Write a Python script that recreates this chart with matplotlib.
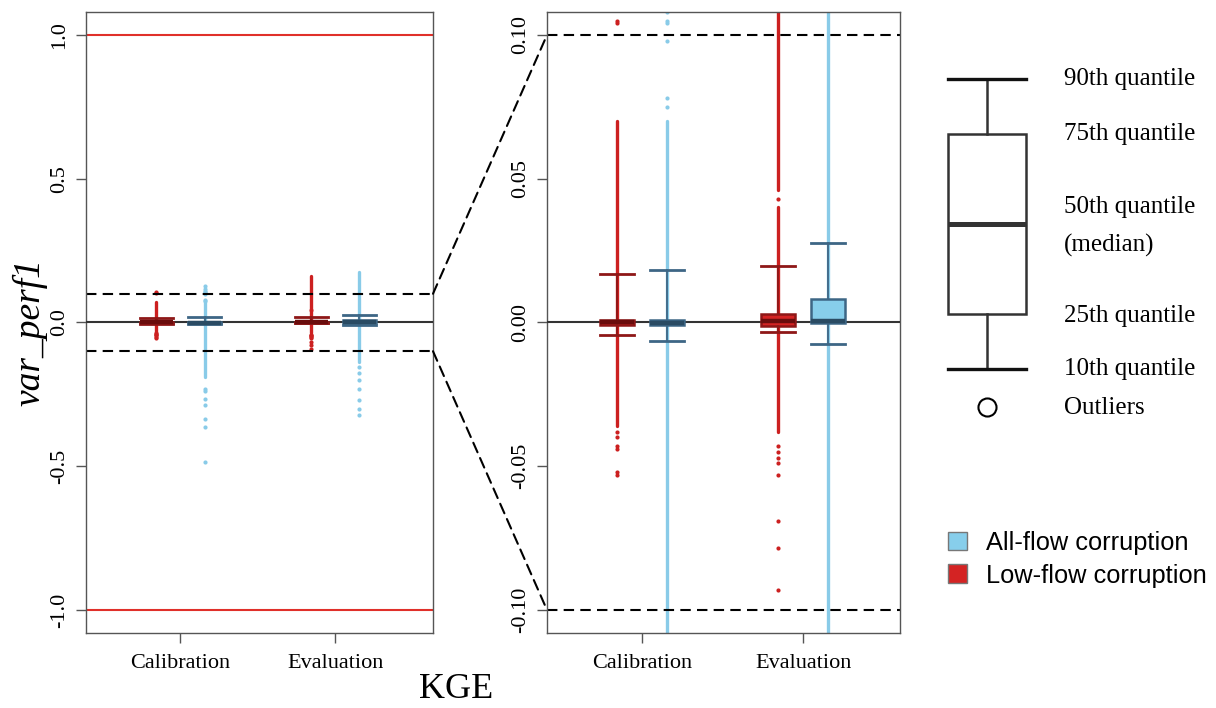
import numpy as np
import matplotlib.pyplot as plt
from matplotlib.patches import ConnectionPatch, Patch

plt.rcParams['font.family'] = 'serif'
plt.rcParams['font.serif'] = ['Liberation Serif', 'DejaVu Serif']
plt.rcParams['axes.unicode_minus'] = False

periods = ["Calibration", "Evaluation"]
series = ["Low-flow corruption", "All-flow corruption"]

# 10th, 25th, 50th, 75th, 90th quantiles of var_perf1
low_cal = [-0.0045, -0.0010, 0.0000, 0.0010, 0.0170]
all_cal = [-0.0063, -0.0010, -0.0002, 0.0010, 0.0183]
low_eval = [-0.0034, -0.0011, 0.0004, 0.0029, 0.0195]
all_eval = [-0.0075, -0.0003, 0.0005, 0.0081, 0.0278]

# outliers: stretches where the dots merge into a solid run, and single dots
low_cal_runs = [(-0.036, 0.070)]
low_cal_dots = [0.104, 0.105, -0.038, -0.040, -0.043, -0.044, -0.052, -0.053]
all_cal_runs = [(-0.190, 0.070)]
all_cal_dots = [0.075, 0.078, 0.098, 0.104, 0.105, 0.108, 0.115, 0.127,
                -0.231, -0.238, -0.267, -0.288, -0.337, -0.365, -0.486]
low_eval_runs = [(-0.038, 0.040), (0.046, 0.163)]
low_eval_dots = [0.043, -0.043, -0.045, -0.047, -0.049, -0.053,
                 -0.069, -0.0785, -0.093]
all_eval_runs = [(-0.139, 0.174)]
all_eval_dots = [-0.156, -0.174, -0.201, -0.230, -0.271, -0.302, -0.323]

quantiles = {("Low-flow corruption", "Calibration"): low_cal,
             ("All-flow corruption", "Calibration"): all_cal,
             ("Low-flow corruption", "Evaluation"): low_eval,
             ("All-flow corruption", "Evaluation"): all_eval}
runs = {("Low-flow corruption", "Calibration"): low_cal_runs,
        ("All-flow corruption", "Calibration"): all_cal_runs,
        ("Low-flow corruption", "Evaluation"): low_eval_runs,
        ("All-flow corruption", "Evaluation"): all_eval_runs}
dots = {("Low-flow corruption", "Calibration"): low_cal_dots,
        ("All-flow corruption", "Calibration"): all_cal_dots,
        ("Low-flow corruption", "Evaluation"): low_eval_dots,
        ("All-flow corruption", "Evaluation"): all_eval_dots}

# fill, box/whisker edge, median, outlier colour
colours = {"Low-flow corruption": ("#D42323", "#8E1717", "#6A0D0D", "#CC2020"),
           "All-flow corruption": ("#87CEEB", "#3D6685", "#2A4B63", "#89CBE8")}
offsets = {"Low-flow corruption": -0.155, "All-flow corruption": 0.155}
spine_col = "#555555"

fig = plt.figure(figsize=(12.16, 7.08), dpi=100)
axL = fig.add_axes([86 / 1216, 1 - 633 / 708, 347 / 1216, 621 / 708])
axR = fig.add_axes([547 / 1216, 1 - 633 / 708, 353 / 1216, 621 / 708])


def draw_panel(ax):
    for i, period in enumerate(periods):
        for s in series:
            key = (s, period)
            fill, dark, med, pts = colours[s]
            x = i + 1 + offsets[s]
            for lo, hi in runs[key]:
                ax.vlines(x, lo, hi, color=pts, lw=2.4, zorder=2, capstyle='round')
            d = dots[key]
            ax.plot([x] * len(d), d, 'o', ms=3.0, color=pts, mec='none', zorder=2)
            q = quantiles[key]
            stats = {'whislo': q[0], 'q1': q[1], 'med': q[2], 'q3': q[3],
                     'whishi': q[4], 'fliers': []}
            ax.bxp([stats], positions=[x], widths=0.21, capwidths=0.21,
                   patch_artist=True, showfliers=False, zorder=4,
                   boxprops=dict(facecolor=fill, edgecolor=dark, linewidth=1.8),
                   whiskerprops=dict(color=dark, linewidth=1.3, linestyle='-'),
                   capprops=dict(color=dark, linewidth=2.0),
                   medianprops=dict(color=med, linewidth=3.2))
    ax.axhline(0, color="#333333", lw=1.5, zorder=3)
    ax.set_xticks([1, 2])
    ax.set_xticklabels(periods, fontsize=16)
    for sp in ax.spines.values():
        sp.set_color(spine_col)
        sp.set_linewidth(1.0)
    ax.tick_params(direction='out', length=7, width=1, color=spine_col,
                   labelsize=16, pad=5)
    ax.tick_params(axis='x', pad=8)


draw_panel(axL)
axL.set_xlim(0.39, 2.63)
axL.set_ylim(-1.08, 1.08)
axL.set_yticks([-1.0, -0.5, 0.0, 0.5, 1.0])
axL.set_yticklabels(["%.1f" % v for v in [-1.0, -0.5, 0.0, 0.5, 1.0]])
plt.setp(axL.get_yticklabels(), rotation=90, va='center')
axL.axhline(1.0, color="#E0302A", lw=1.5)
axL.axhline(-1.0, color="#E0302A", lw=1.5)
axL.axhline(0.1, color="black", lw=1.5, dashes=(5, 3))
axL.axhline(-0.1, color="black", lw=1.5, dashes=(5, 3))

draw_panel(axR)
axR.set_xlim(0.41, 2.60)
axR.set_ylim(-0.108, 0.108)
axR.set_yticks([-0.10, -0.05, 0.0, 0.05, 0.10])
axR.set_yticklabels(["%.2f" % v for v in [-0.10, -0.05, 0.0, 0.05, 0.10]])
plt.setp(axR.get_yticklabels(), rotation=90, va='center')
axR.axhline(0.1, color="black", lw=1.5, dashes=(5, 3))
axR.axhline(-0.1, color="black", lw=1.5, dashes=(5, 3))

# zoom connectors
for yv in (0.1, -0.1):
    con = ConnectionPatch(xyA=(axL.get_xlim()[1], yv), coordsA=axL.transData,
                          xyB=(axR.get_xlim()[0], yv), coordsB=axR.transData,
                          color="black", lw=1.5, linestyle=(0, (5, 3)))
    fig.add_artist(con)

fig.text(30 / 1216, 1 - 332 / 708, "var_perf1", rotation=90, style='italic',
         fontsize=27, ha='center', va='center')
fig.text(456 / 1216, 1 - 690 / 708, "KGE", fontsize=26, ha='center', va='center')

# boxplot key
axK = fig.add_axes([930 / 1216, 1 - 430 / 708, 286 / 1216, 370 / 708])
axK.set_xlim(0, 1)
axK.set_ylim(0, 1)
axK.axis('off')
key_q = [0.165, 0.314, 0.557, 0.80, 0.949]
key_labels = ["10th quantile", "25th quantile", "50th quantile", "75th quantile",
              "90th quantile"]
axK.bxp([{'whislo': key_q[0], 'q1': key_q[1], 'med': key_q[2], 'q3': key_q[3],
          'whishi': key_q[4], 'fliers': []}],
        positions=[0.199], widths=0.273, capwidths=0.273, patch_artist=True,
        showfliers=False,
        boxprops=dict(facecolor='white', edgecolor='#333333', linewidth=1.8),
        whiskerprops=dict(color='#333333', linewidth=1.8, linestyle='-'),
        capprops=dict(color='#111111', linewidth=2.4),
        medianprops=dict(color='#333333', linewidth=3.6))
axK.plot(0.199, 0.062, 'o', ms=13, mfc='none', mec='black', mew=1.5)
label_y = [0.165, 0.308, 0.603, 0.80, 0.949]
for yv, lab in zip(label_y, key_labels):
    axK.text(0.469, yv, lab, fontsize=18, va='center', ha='left')
axK.text(0.469, 0.50, "(median)", fontsize=18, va='center', ha='left')
axK.text(0.469, 0.059, "Outliers", fontsize=18, va='center', ha='left')

handles = [Patch(facecolor=colours["All-flow corruption"][0], edgecolor='#777777'),
           Patch(facecolor=colours["Low-flow corruption"][0], edgecolor='#777777')]
fig.legend(handles=handles, labels=["All-flow corruption", "Low-flow corruption"],
           loc='upper left', bbox_to_anchor=(948 / 1216, 1 - 531 / 708),
           frameon=False, prop={'family': 'Liberation Sans', 'size': 18.3},
           handlelength=0.75, handleheight=0.75, handletextpad=0.75,
           labelspacing=0.34, borderaxespad=0, borderpad=0)

fig.savefig("out.png", dpi=100)
